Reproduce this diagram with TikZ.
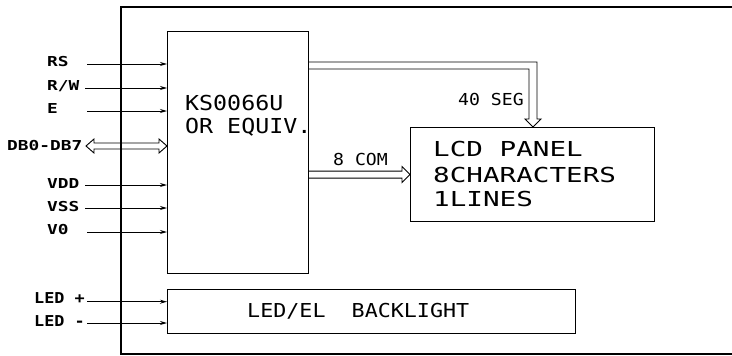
\documentclass[tikz,border=0pt]{standalone}
\usepackage{fontspec}
\usepackage{graphicx}
\setmonofont{DejaVu Sans Mono}
\usetikzlibrary{arrows.meta,calc}
\newcommand{\sx}[2]{\scalebox{#1}[1]{#2}}
\begin{document}
\begin{tikzpicture}[x=1pt,y=-1pt,
  box/.style={draw,line width=1.2pt,inner sep=0,anchor=north west},
  sig/.style={line width=1pt,-{Stealth[length=7pt,width=4pt]}},
  bus/.style={line width=0.9pt,line join=miter},
  txt/.style={anchor=base west,inner sep=0},
  lbl/.style={txt,font=\fontsize{13.7}{14}\ttfamily\bfseries},
  big/.style={txt,font=\fontsize{20.6}{21}\ttfamily},
  mid/.style={txt,font=\fontsize{16.5}{17}\ttfamily}]
\useasboundingbox (0,0) rectangle (732,356);
% outer frame (open to the right)
\draw[line width=1.5pt] (732,7) -- (121,7) -- (121,354) -- (732,354);
% boxes
\node[box,minimum width=141pt,minimum height=242pt] (ctrl) at (167,31) {};
\node[box,minimum width=244pt,minimum height=94pt] (lcd) at (410,127) {};
\node[box,minimum width=408pt,minimum height=44pt] (bl) at (167,289) {};
% box texts
\node[big] (t1) at (185,110) {\sx{1.13}{KS0066U}};
\node[big] (t2) at (185,133) {\sx{1.13}{OR EQUIV.}};
\node[big] (l1) at (433,156.7) {\sx{1.34}{LCD PANEL}};
\node[big] (l2) at (433,182.7) {\sx{1.34}{8CHARACTERS}};
\node[big] (l3) at (433,206.7) {\sx{1.34}{1LINES}};
\node[txt,font=\fontsize{19.2}{20}\ttfamily] (blt) at (247,317) {\sx{1.13}{LED/EL\ \ BACKLIGHT}};
% left signal labels
\node[lbl] (rs) at (47,66) {\sx{1.3}{RS}};
\node[lbl] (rw) at (47,90) {\sx{1.3}{R/W}};
\node[lbl] (e) at (47,113) {\sx{1.3}{E}};
\node[lbl] (db) at (7,150) {\sx{1.3}{DB0-DB7}};
\node[lbl] (vdd) at (47,188) {\sx{1.3}{VDD}};
\node[lbl] (vss) at (47,211) {\sx{1.3}{VSS}};
\node[lbl] (v0) at (47,234) {\sx{1.3}{V0}};
\node[txt,font=\fontsize{15}{16}\ttfamily\bfseries] (ledp) at (34,303) {\sx{1.12}{LED +}};
\node[txt,font=\fontsize{15}{16}\ttfamily\bfseries] (ledm) at (34,326) {\sx{1.12}{LED -}};
% signal arrows
\coordinate (rsS) at (87,64);
\coordinate (rwS) at (85,88);
\coordinate (eS) at (87,111);
\coordinate (vddS) at (85,185);
\coordinate (vssS) at (85,208);
\coordinate (v0S) at (87,232);
\coordinate (lpS) at (87,301.7);
\coordinate (lmS) at (87,323);
\foreach \c in {rsS,rwS,eS,vddS,vssS,v0S}
  \draw[sig] (\c) -- (\c -| ctrl.west);
\foreach \c in {lpS,lmS}
  \draw[sig] (\c) -- (\c -| bl.west);
% DB0-DB7 bidirectional bus
\coordinate (dbS) at (86,146);
\coordinate (dbE) at (dbS -| ctrl.west);
\draw[bus] (dbS) -- ($(dbS)+(8,-7)$) -- ($(dbS)+(8,-3)$) -- ($(dbE)+(-8,-3)$)
  -- ($(dbE)+(-8,-7)$) -- (dbE) -- ($(dbE)+(-8,7)$) -- ($(dbE)+(-8,3)$)
  -- ($(dbS)+(8,3)$) -- ($(dbS)+(8,7)$) -- cycle;
% 40 SEG bus
\coordinate (segtip) at ($(lcd.north west)+(123,0)$);
\draw[bus] ($(ctrl.north east)+(0,31)$) -- ($(segtip)+(4,-65)$) -- ($(segtip)+(4,-8)$)
  -- ($(segtip)+(8,-8)$) -- (segtip) -- ($(segtip)+(-8,-8)$) -- ($(segtip)+(-4,-8)$)
  -- ($(segtip)+(-4,-58)$) -- ($(ctrl.north east)+(0,38)$);
\node[mid] (seg) at (458,105) {\sx{1.1}{40 SEG}};
% 8 COM bus
\draw[bus] ($(ctrl.east |- lcd.west)+(0,-3.5)$) -- ($(lcd.west)+(-8,-3.5)$)
  -- ($(lcd.west)+(-8,-8)$) -- (lcd.west) -- ($(lcd.west)+(-8,8)$)
  -- ($(lcd.west)+(-8,3.5)$) -- ($(ctrl.east |- lcd.west)+(0,3.5)$);
\node[mid] (com) at (333,165) {\sx{1.1}{8 COM}};
\end{tikzpicture}
\end{document}
